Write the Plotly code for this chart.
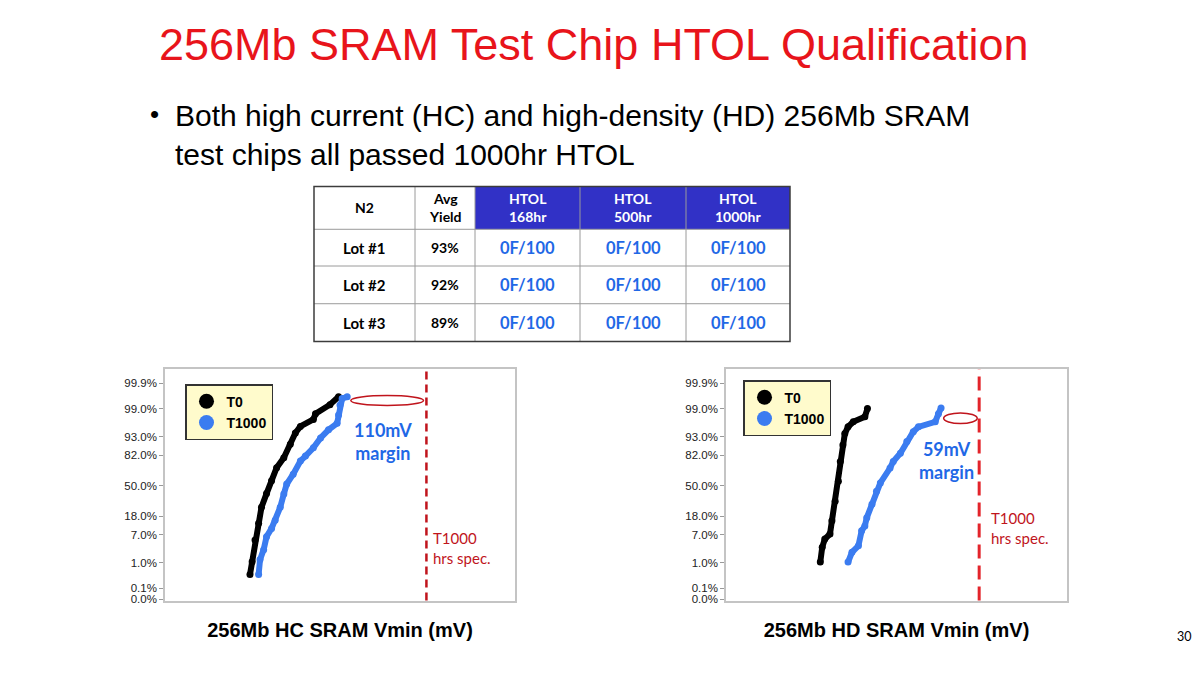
import plotly.graph_objects as go
from statistics import NormalDist

# ---------------- data ----------------
TABLE_HEADER = ["N2", "Avg<br>Yield", "HTOL<br>168hr", "HTOL<br>500hr", "HTOL<br>1000hr"]
LOTS = ["Lot #1", "Lot #2", "Lot #3"]
AVG_YIELD = ["93%", "92%", "89%"]
HTOL_168 = ["0F/100", "0F/100", "0F/100"]
HTOL_500 = ["0F/100", "0F/100", "0F/100"]
HTOL_1000 = ["0F/100", "0F/100", "0F/100"]

Y_TICK_PCT = [99.9, 99.0, 93.0, 82.0, 50.0, 18.0, 7.0, 1.0, 0.1]
Y_TICK_TEXT = ["99.9%", "99.0%", "93.0%", "82.0%", "50.0%", "18.0%", "7.0%", "1.0%", "0.1%"]

HC_T0_MV = [405, 408, 412, 417, 421, 428, 435, 442, 452, 461, 468, 475, 493, 496, 516, 528]
HC_T0_PCT = [0.37, 1.1, 5.1, 12.9, 25.9, 40.6, 55.9, 70.7, 80.0, 89.4, 94.4, 96.3, 97.7, 98.5, 99.27, 99.63]
HC_T1000_MV = [417, 419, 424, 428, 435, 440, 447, 452, 456, 465, 475, 482, 493, 503, 514, 526, 528, 530, 533, 540]
HC_T1000_PCT = [0.37, 1.3, 2.7, 6.2, 9.9, 14.9, 25.9, 40.2, 52.0, 63.6, 77.2, 81.4, 87.3, 92.5, 95.4, 97.0,
                98.35, 99.25, 99.57, 99.63]
HC_SPEC_MV = 650

HD_T0_MV = [404, 407, 411, 419, 422, 427, 432, 435, 439, 442, 447, 455, 473, 477]
HD_T0_PCT = [1.07, 3.2, 5.4, 7.3, 14.5, 32.0, 55.3, 76.8, 89.0, 94.2, 96.2, 97.3, 98.1, 99.0]
HD_T1000_MV = [447, 453, 463, 468, 473, 476, 484, 491, 497, 512, 517, 528, 538, 548, 556, 582, 587, 591]
HD_T1000_PCT = [1.07, 2.24, 3.5, 8.7, 11.3, 16.8, 28.7, 43.5, 53.3, 70.2, 76.8, 83.6, 90.8, 94.8, 96.2,
                97.3, 98.5, 99.04]
HD_SPEC_MV = 650

# ---------------- helpers ----------------
ND = NormalDist()


def probit(pcts):
    return [ND.inv_cdf(p / 100.0) for p in pcts]


Y_FLOOR = -3.42          # position of the "0.0%" label (bottom of the probability axis)
Y_RANGE = [-3.46, 3.51]

W, H = 1200, 675


def px(x):
    return x / W


def py(y):
    return 1 - y / H


BLACK = "#000000"
BLUE = "#3b7cf0"
TXT_BLUE = "#1f68e6"
DARK_RED = "#c0141c"
RED = "#e3242b"
HDR_BLUE = "#3131c6"

fig = go.Figure()
shapes = []
ann = []

# ---------------- table (built from the arrays) ----------------
COL_EDGES = [314, 415, 475, 580, 686, 790]
ROW_EDGES = [188, 231, 268, 306, 344]
columns = [LOTS, AVG_YIELD, HTOL_168, HTOL_500, HTOL_1000]
hdr_fill = ["white", "white", HDR_BLUE, HDR_BLUE, HDR_BLUE]
hdr_color = ["black", "black", "white", "white", "white"]
cell_color = ["black", "black", TXT_BLUE, TXT_BLUE, TXT_BLUE]
cell_size = [15, 14, 16.5, 16.5, 16.5]

for c, head in enumerate(TABLE_HEADER):
    x0, x1 = COL_EDGES[c], COL_EDGES[c + 1]
    shapes.append(dict(type="rect", xref="paper", yref="paper", x0=px(x0), x1=px(x1),
                       y0=py(ROW_EDGES[1]), y1=py(ROW_EDGES[0]), fillcolor=hdr_fill[c],
                       line=dict(width=0), layer="below"))
    ann.append(dict(text="<b>%s</b>" % head, x=px((x0 + x1) / 2), y=py((ROW_EDGES[0] + ROW_EDGES[1]) / 2),
                    font=dict(family="Lato", size=14, color=hdr_color[c])))
    for r, val in enumerate(columns[c]):
        ann.append(dict(text="<b>%s</b>" % val, x=px((x0 + x1) / 2),
                        y=py((ROW_EDGES[r + 1] + ROW_EDGES[r + 2]) / 2),
                        font=dict(family="Lato", size=cell_size[c], color=cell_color[c])))

for xe in COL_EDGES[1:-1]:
    shapes.append(dict(type="line", xref="paper", yref="paper", x0=px(xe), x1=px(xe),
                       y0=py(ROW_EDGES[-1]), y1=py(ROW_EDGES[0]), line=dict(color="#9a9a9a", width=1)))
for ye in ROW_EDGES[1:-1]:
    shapes.append(dict(type="line", xref="paper", yref="paper", x0=px(COL_EDGES[0]), x1=px(COL_EDGES[-1]),
                       y0=py(ye), y1=py(ye), line=dict(color="#9a9a9a", width=1)))
shapes.append(dict(type="rect", xref="paper", yref="paper", x0=px(COL_EDGES[0]), x1=px(COL_EDGES[-1]),
                   y0=py(ROW_EDGES[-1]), y1=py(ROW_EDGES[0]), line=dict(color="#3c3c3c", width=1.5)))


# ---------------- probability plots ----------------
def add_curve(xa, ya, mv, pct, color):
    fig.add_trace(go.Scatter(
        x=mv, y=probit(pct), mode="lines+markers", xaxis=xa, yaxis=ya,
        line=dict(color=color, width=6), marker=dict(color=color, size=7),
        showlegend=False, hoverinfo="skip"))


add_curve("x", "y", HC_T0_MV, HC_T0_PCT, BLACK)
add_curve("x", "y", HC_T1000_MV, HC_T1000_PCT, BLUE)
add_curve("x2", "y2", HD_T0_MV, HD_T0_PCT, BLACK)
add_curve("x2", "y2", HD_T1000_MV, HD_T1000_PCT, BLUE)

for lg, xa, ya in [("legend", "x", "y"), ("legend2", "x2", "y2")]:
    for name, color in [("T0", BLACK), ("T1000", BLUE)]:
        fig.add_trace(go.Scatter(
            x=[None], y=[None], mode="markers", name="<b>%s</b>" % name, xaxis=xa, yaxis=ya,
            marker=dict(color=color, size=15), legend=lg))

tickvals = probit(Y_TICK_PCT) + [Y_FLOOR]
ticktext = Y_TICK_TEXT + ["0.0%"]

yaxis_common = dict(
    range=Y_RANGE, tickvals=tickvals, ticktext=ticktext,
    tickfont=dict(family="Liberation Sans", size=11.5, color="#222222"),
    showgrid=False, zeroline=False, showline=True, linecolor="#c4c4c4", linewidth=1.5,
    mirror=True, ticks="outside", ticklen=4, tickcolor="#999999", fixedrange=True,
)


def xaxis_common(title):
    return dict(
        showticklabels=False, showgrid=False, zeroline=False, showline=True,
        linecolor="#c4c4c4", linewidth=1.5, mirror=True, ticks="", fixedrange=True,
        title=dict(text=title, font=dict(family="Liberation Sans", size=20, color="black", weight="bold"),
                   standoff=22),
    )


fig.update_layout(
    xaxis=dict(domain=[px(165), px(515)], range=[287, 773], anchor="y",
               **xaxis_common("256Mb HC SRAM Vmin (mV)")),
    yaxis=dict(domain=[py(605), py(372)], anchor="x", **yaxis_common),
    xaxis2=dict(domain=[px(726), px(1067)], range=[258, 786], anchor="y2",
                **xaxis_common("256Mb HD SRAM Vmin (mV)")),
    yaxis2=dict(domain=[py(605), py(372)], anchor="x2", **yaxis_common),
)

legend_style = dict(
    bgcolor="#fffbcc", bordercolor="#333333", borderwidth=1.5,
    font=dict(family="Liberation Sans", size=14, color="black"),
    itemsizing="trace", tracegroupgap=0, xanchor="left", yanchor="top",
)
fig.update_layout(
    legend=dict(x=px(185), y=py(387), **legend_style),
    legend2=dict(x=px(743), y=py(383), **legend_style),
)

# spec lines
shapes.append(dict(type="line", xref="x", yref="y domain", x0=HC_SPEC_MV, x1=HC_SPEC_MV, y0=0, y1=1,
                   line=dict(color=DARK_RED, width=2.5, dash="8px,5px")))
shapes.append(dict(type="line", xref="x2", yref="y2 domain", x0=HD_SPEC_MV, x1=HD_SPEC_MV, y0=0, y1=1,
                   line=dict(color=RED, width=3, dash="14px,7px")))

# margin ellipses (from top of T1000 curve to spec line)
hc_top = max(probit(HC_T1000_PCT))
shapes.append(dict(type="circle", xref="x", yref="y",
                   x0=max(HC_T1000_MV) + 5, x1=HC_SPEC_MV - 4, y0=hc_top - 0.26, y1=hc_top + 0.04,
                   line=dict(color=DARK_RED, width=1.5)))
hd_top = max(probit(HD_T1000_PCT))
shapes.append(dict(type="circle", xref="x2", yref="y2",
                   x0=max(HD_T1000_MV) + 4, x1=HD_SPEC_MV - 3, y0=hd_top - 0.47, y1=hd_top - 0.15,
                   line=dict(color=DARK_RED, width=1.5)))

ann.append(dict(text="256Mb SRAM Test Chip HTOL Qualification", x=px(594), y=py(45),
                font=dict(family="Liberation Sans", size=45, color="#e8141b")))
ann.append(dict(text="•", x=px(154), y=py(115),
                font=dict(family="Liberation Sans", size=26, color="black")))
ann.append(dict(text="Both high current (HC) and high-density (HD) 256Mb SRAM<br>test chips all passed 1000hr HTOL",
                x=px(173), y=py(136), xanchor="left", align="left",
                font=dict(family="Liberation Sans", size=30, color="black")))
ann.append(dict(text="<b>%dmV<br>margin</b>" % (HC_SPEC_MV - max(HC_T1000_MV)), x=px(383), y=py(445),
                font=dict(family="Lato", size=18, color=TXT_BLUE)))
ann.append(dict(text="<b>%dmV<br>margin</b>" % (HD_SPEC_MV - max(HD_T1000_MV)), x=px(946), y=py(464),
                font=dict(family="Lato", size=18, color=TXT_BLUE)))
ann.append(dict(text="T1000<br>hrs spec.", x=px(431), y=py(552), xanchor="left", align="left",
                font=dict(family="Lato", size=15, color=DARK_RED)))
ann.append(dict(text="T1000<br>hrs spec.", x=px(989), y=py(532), xanchor="left", align="left",
                font=dict(family="Lato", size=15, color=DARK_RED)))
ann.append(dict(text="30", x=px(1184), y=py(641),
                font=dict(family="Lato", size=12.5, color="black")))
for a in ann:
    a.setdefault("xanchor", "center")
    a.update(xref="paper", yref="paper", yanchor="middle", showarrow=False)

fig.update_layout(
    annotations=ann, shapes=shapes,
    width=W, height=H, margin=dict(l=0, r=0, t=0, b=0),
    paper_bgcolor="white", plot_bgcolor="white",
)

fig.write_html("out.html", config={"displayModeBar": False},
               post_script="document.body.style.margin='0px';")
